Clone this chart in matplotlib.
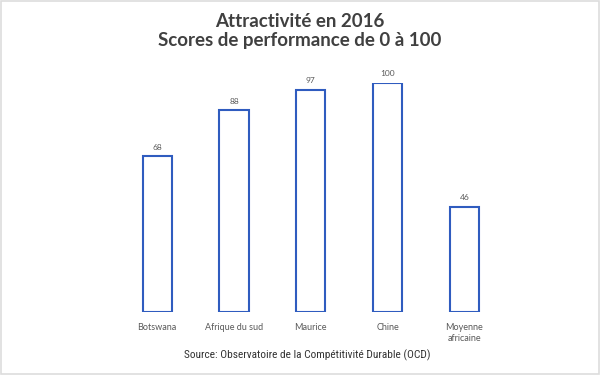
import matplotlib
matplotlib.use('Agg')
import matplotlib.pyplot as plt
from matplotlib.patches import Rectangle

# data
pays = ['Botswana', 'Afrique du sud', 'Maurice', 'Chine', 'Moyenne\nafricaine']
scores = [68, 88, 97, 100, 46]

fig = plt.figure(figsize=(6, 3.75), dpi=100)
ax = fig.add_axes([0.198, 0.168, 0.64, 0.6107])

x = range(len(pays))
bars = ax.bar(x, scores, width=0.38, facecolor='white', edgecolor='#2f5cbf', linewidth=1.5)
for xi, v in zip(x, scores):
    ax.text(xi, v + 2.5, str(v), ha='center', va='bottom', fontsize=6, color='#595959', family='Lato')

ax.set_xlim(-0.5, 4.5)
ax.set_ylim(0, 100)
ax.set_xticks(list(x))
ax.set_xticklabels(pays, fontsize=6.5, color='#595959', family='Lato', linespacing=1.25)
ax.tick_params(axis='x', length=0, pad=8)
ax.set_yticks([])
for s in ax.spines.values():
    s.set_visible(False)

fig.text(0.5, 0.965, 'Attractivité en 2016\nScores de performance de 0 à 100', ha='center', va='top',
         fontsize=13.5, fontweight='bold', color='#404040', family='Lato', linespacing=1.12)
fig.text(0.512, 0.053, 'Source: Observatoire de la Compétitivité Durable (OCD)', ha='center', va='center',
         fontsize=8.2, color='#333333', family=['Roboto Condensed', 'Liberation Sans'])

# light frame around the picture
fig.patches.append(Rectangle((0.002, 0.003), 0.996, 0.994, transform=fig.transFigure,
                             fill=False, edgecolor='#dddddd', linewidth=1.2))

fig.savefig('out.png', dpi=100)
